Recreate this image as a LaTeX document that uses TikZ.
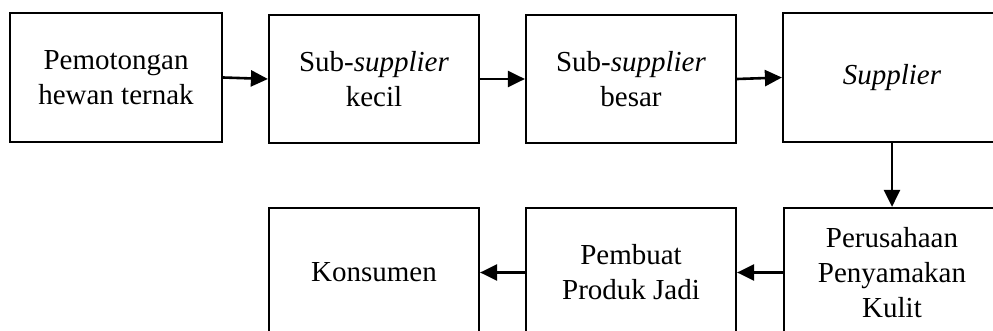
\documentclass[tikz,border=0pt]{standalone}
\usepackage{fontspec}
\setmainfont{Liberation Serif}
\usetikzlibrary{arrows.meta}

\tikzset{
  stage/.style={draw=black, line width=2.2pt, fill=white, align=center,
    inner sep=0pt, font=\fontsize{29}{35}\selectfont},
  flow/.style={line width=2.6pt, -{Triangle[length=17pt,width=16pt]}}
}

\begin{document}
\begin{tikzpicture}[x=1pt, y=-1pt]
  \useasboundingbox (0,0) rectangle (993,331);
  \clip (0,0) rectangle (993,331);

  % upper row: from slaughter to supplier
  \node[stage, minimum width=212pt, minimum height=129pt] (cut) at (116,77.5)
    {Pemotongan\\hewan ternak};
  \node[stage, minimum width=210pt, minimum height=128pt] (small) at (374,79)
    {Sub-\textit{supplier}\\kecil};
  \node[stage, minimum width=210pt, minimum height=128pt] (large) at (631,79)
    {Sub-\textit{supplier}\\besar};
  \node[stage, minimum width=218pt, minimum height=129pt] (supp) at (892,77.5)
    {\textit{Supplier}};

  % lower row: tannery to consumer
  \node[stage, minimum width=216pt, minimum height=129pt] (tan) at (892,272.5)
    {Perusahaan\\Penyamakan\\Kulit};
  \node[stage, minimum width=210pt, minimum height=129pt] (maker) at (631,272.5)
    {Pembuat\\Produk Jadi};
  \node[stage, minimum width=210pt, minimum height=129pt] (cons) at (374,272.5)
    {Konsumen};

  % flow of the hides
  \draw[flow] (cut.east) -- (small.west);
  \draw[flow] (small.east) -- (large.west);
  \draw[flow] (large.east) -- (supp.west);
  \draw[flow] (supp.south) -- (tan.north);
  \draw[flow] (tan.west) -- (maker.east);
  \draw[flow] (maker.west) -- (cons.east);
\end{tikzpicture}
\end{document}
